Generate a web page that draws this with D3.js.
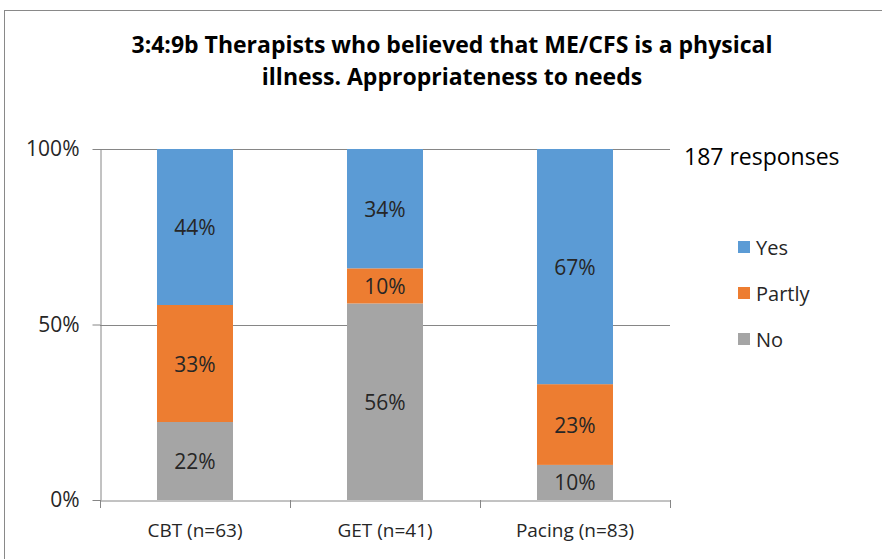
<!DOCTYPE html>
<html>
<head>
<meta charset="utf-8">
<script src="https://cdn.jsdelivr.net/npm/d3@7"></script>
<style>
    body { margin: 0; background: #fff; }
    svg { display: block; }
</style>
</head>
<body>
<div id="chart"></div>
<script>
// Data
const categories = ['CBT (n=63)', 'GET (n=41)', 'Pacing (n=83)'];
const seriesNames = ['No', 'Partly', 'Yes'];
const noValues = [22, 56, 10];
const partlyValues = [33, 10, 23];
const yesValues = [44, 34, 67];
const yTicks = [0, 0.5, 1];
const legendKeys = ['Yes', 'Partly', 'No'];
const colors = { Yes: '#5B9BD5', Partly: '#ED7D31', No: '#A5A5A5' };

const width = 882, height = 559;
const plot = { left: 100, right: 670, top: 149, bottom: 500 };
const font = '"Open Sans", "Noto Sans", sans-serif';

const svg = d3.select('#chart')
    .append('svg')
    .attr('width', width)
    .attr('height', height);

// Chart border
svg.append('rect')
    .attr('x', 4.5).attr('y', 10.5)
    .attr('width', 900).attr('height', 600)
    .style('fill', 'none')
    .style('stroke', '#898989')
    .style('stroke-width', 1);

// Title
const title = svg.append('text')
    .attr('text-anchor', 'middle')
    .style('font-family', font)
    .style('font-weight', 'bold')
    .style('font-size', '23px')
    .style('fill', '#000');
title.append('tspan').attr('x', 452).attr('y', 53)
    .text('3:4:9b Therapists who believed that ME/CFS is a physical');
title.append('tspan').attr('x', 452).attr('y', 85)
    .text('illness. Appropriateness to needs');

// Build table of rows
const rows = categories.map((c, i) => ({
    category: c,
    No: noValues[i],
    Partly: partlyValues[i],
    Yes: yesValues[i]
}));

const stacked = d3.stack()
    .keys(seriesNames)
    .offset(d3.stackOffsetExpand)(rows);

const x = d3.scaleBand()
    .domain(categories)
    .range([plot.left, plot.right])
    .paddingInner(0.6)
    .paddingOuter(0.3);

const y = d3.scaleLinear()
    .domain([0, 1])
    .range([plot.bottom, plot.top]);

// Gridlines
svg.append('g')
    .selectAll('line')
    .data(yTicks.filter(t => t > 0))
    .join('line')
    .attr('x1', plot.left).attr('x2', plot.right)
    .attr('y1', d => Math.round(y(d)) + 0.5)
    .attr('y2', d => Math.round(y(d)) + 0.5)
    .style('stroke', '#868686')
    .style('stroke-width', 1);

// Bars
svg.append('g')
    .selectAll('g')
    .data(stacked)
    .join('g')
    .style('fill', d => colors[d.key])
    .selectAll('rect')
    .data(d => d)
    .join('rect')
    .attr('x', d => x(d.data.category))
    .attr('width', x.bandwidth())
    .attr('y', d => y(d[1]))
    .attr('height', d => y(d[0]) - y(d[1]));

// Data labels
svg.append('g')
    .selectAll('g')
    .data(stacked)
    .join('g')
    .selectAll('text')
    .data(d => d.map(v => ({ v, key: d.key })))
    .join('text')
    .attr('x', d => x(d.v.data.category) + x.bandwidth() / 2)
    .attr('y', d => (y(d.v[0]) + y(d.v[1])) / 2)
    .attr('text-anchor', 'middle')
    .attr('dominant-baseline', 'central')
    .style('font-family', font)
    .style('font-size', '21px')
    .style('fill', '#262626')
    .text(d => d.v.data[d.key] + '%');

// Y axis
const yAxis = svg.append('g')
    .attr('transform', `translate(${plot.left + 0.5},0)`)
    .call(d3.axisLeft(y)
        .tickValues(yTicks)
        .tickFormat(d3.format('.0%'))
        .tickSize(8)
        .tickSizeOuter(0));
yAxis.select('.domain').style('stroke', '#868686');
yAxis.selectAll('.tick line').style('stroke', '#868686');
yAxis.selectAll('.tick text')
    .attr('x', -21)
    .style('font-family', font)
    .style('font-size', '21px')
    .style('fill', '#262626');

// X axis
const xAxis = svg.append('g')
    .attr('transform', `translate(0,${plot.bottom + 0.5})`)
    .call(d3.axisBottom(x).tickSize(0).tickSizeOuter(0));
xAxis.select('.domain').style('stroke', '#868686');
xAxis.selectAll('.tick text')
    .attr('dy', 0)
    .attr('y', 36)
    .style('font-family', font)
    .style('font-size', '19px')
    .style('fill', '#262626');

// Category separators on x axis
svg.append('g')
    .selectAll('line')
    .data(d3.range(categories.length + 1).map(i => plot.left + i * x.step()))
    .join('line')
    .attr('x1', d => Math.round(d) + 0.5)
    .attr('x2', d => Math.round(d) + 0.5)
    .attr('y1', plot.bottom)
    .attr('y2', plot.bottom + 8)
    .style('stroke', '#868686');

// Responses note
svg.append('text')
    .attr('x', 684)
    .attr('y', 165)
    .style('font-family', font)
    .style('font-size', '23px')
    .style('fill', '#000')
    .text('187 responses');

// Legend
const legend = svg.append('g')
    .selectAll('g')
    .data(legendKeys)
    .join('g')
    .attr('transform', (d, i) => `translate(738, ${247 + i * 46})`);

legend.append('rect')
    .attr('x', 0).attr('y', -6)
    .attr('width', 12).attr('height', 12)
    .style('fill', d => colors[d]);

legend.append('text')
    .attr('x', 18)
    .attr('y', 0)
    .attr('dominant-baseline', 'central')
    .style('font-family', font)
    .style('font-size', '20px')
    .style('fill', '#262626')
    .text(d => d);
</script>
</body>
</html>
